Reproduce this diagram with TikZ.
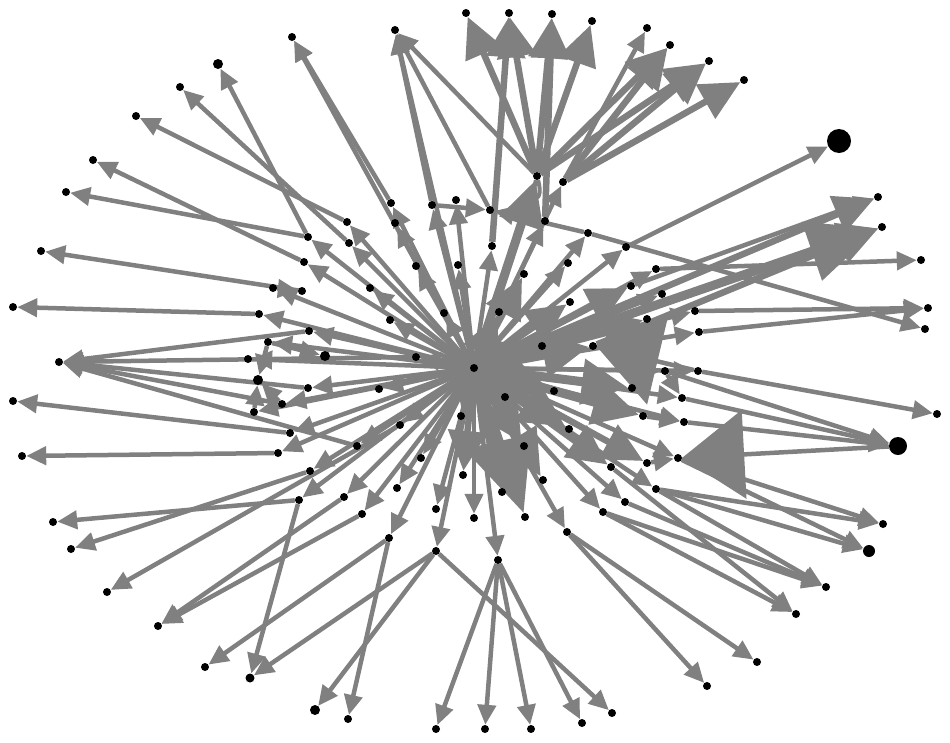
\documentclass[tikz,border=0pt]{standalone}
\usetikzlibrary{arrows.meta,backgrounds}

\tikzset{
  dot/.style={circle, fill=black, inner sep=0pt, minimum size=8pt},
  link/.style={draw=gray, line width=4.5pt, -{Triangle[length=20pt,width=18pt]}},
  heavylink/.style={draw=gray, line width=6.5pt, -{Triangle[length=40pt,width=38pt]}},
  hublink/.style={draw=gray, line width=9pt, -{Triangle[length=46pt,width=44pt]}},
  hugelink/.style={draw=gray, line width=9pt, -{Triangle[length=70pt,width=60pt]}},
  widehead/.style={draw=gray, line width=4.5pt, -{Triangle[length=62pt,width=88pt]}},
}

\begin{document}
\begin{tikzpicture}[x=1pt, y=-1pt]

  \useasboundingbox (0,0) rectangle (950,742);

  % ==========================================
  % NODES (outer ring, then inner ones)
  % ==========================================
  \foreach \nm/\x/\y/\s in {
      t1/395/30/8, t2/292/37/8, t3/466/13/8, t4/509/13/8, t5/552/14/8,
      t6/592/21/8, t7/647/28/8, t8/670/45/8, t9/709/61/8, t10/744/80/8,
      t11/218/64/10,
      l1/180/87/8, l2/136/116/8, l3/93/160/8, l4/66/192/8, l5/41/251/8,
      l6/13/307/8, l7/59/362/8, l8/13/401/8, l9/22/456/8, l10/53/522/8,
      l11/71/549/8, l12/107/592/8, l13/158/626/8, l14/205/667/8,
      b1/250/678/9, b2/315/710/10, b3/348/719/8, b4/436/729/8, b5/485/729/8,
      b6/531/729/8, b7/582/723/8, b8/612/713/8, b9/707/686/8, b10/757/662/8,
      r1/796/614/8, r2/826/587/8, r3/869/551/12, r4/883/524/8, r5/898/446/18,
      r6/937/414/8, r7/925/329/8, r8/928/308/8, r9/921/260/8, r10/882/227/8,
      r11/878/197/8, r12/839/141/24}
    \node[dot, minimum size=\s pt] (\nm) at (\x,\y) {};

  \foreach \nm/\x/\y/\s in {
      hub/474/368/8,
      a1/537/176/8, a2/563/182/8, a3/391/203/8, a4/395/223/8, a5/432/205/8,
      a6/456/200/8, a7/490/210/8, a8/347/222/8, a9/308/237/8, a10/349/243/8,
      a11/545/221/8, a12/588/233/8, a13/626/247/8, a14/492/246/8,
      a15/304/262/8, a16/273/288/8, a17/302/291/8, a18/259/314/8,
      a19/309/331/8, a20/268/342/8, a21/248/359/8, a22/325/356/10,
      a23/258/380/10, a24/308/388/8, a25/282/404/8, a26/254/412/8,
      a27/379/389/8, a28/416/357/8, a29/390/320/8, a30/370/288/8,
      a31/416/266/8, a32/458/265/8, a33/444/313/8, a34/290/433/8,
      a35/278/453/8, a36/357/446/8, a37/400/425/8, a38/461/416/8,
      a39/421/458/8, a40/310/471/8, a41/463/475/8, a42/397/488/8,
      a43/524/274/8, a44/568/263/8, a45/656/269/8, a46/631/286/8,
      a47/662/294/8, a48/570/302/8, a49/499/312/8, a50/647/319/8,
      a51/695/311/8, a52/699/332/8, a53/542/346/8, a54/593/346/8,
      a55/505/397/8, a56/554/391/8, a57/665/371/8, a58/698/371/8,
      a59/632/388/8, a60/682/398/8, a61/643/416/8, a62/684/422/8,
      a63/569/429/8, a64/524/446/8, a65/678/458/8, a66/647/463/8,
      a67/611/467/8, a68/543/480/8, a69/656/489/8, a70/502/492/8,
      a71/299/500/8, a72/344/497/8, a73/362/514/8, a74/389/538/8,
      a75/436/509/8, a76/436/551/8, a77/474/518/8, a78/525/517/8,
      a79/567/532/8, a80/498/560/8, a81/603/512/8, a82/625/502/8}
    \node[dot, minimum size=\s pt] (\nm) at (\x,\y) {};

  % ==========================================
  % LINKS (kept behind the dots)
  % ==========================================
  \begin{scope}[on background layer]

    % hub to the inner dots
    \foreach \b in {a2, a3, a5, a6, a8, a9, a10, a11, a12, a13, a14, a15,
        a16, a18, a19, a20, a21, a24, a25, a26, a27, a28, a29, a30, a31,
        a32, a33, a34, a35, a36, a37, a39, a40, a42, a44, a45, a47, a51,
        a52, a57, a58, a60, a62, a65, a69, a71, a72, a73, a74, a75, a76,
        a77, a79, a80, a81, a82, a4, t1, t2}
      \draw[link] (hub) -- (\b);

    % inner dots to the outer ring
    \foreach \a/\b in {
        a10/l1, a8/l2, a15/l3, a9/l4, a17/l5, a18/l6, a19/l7, a28/l7,
        a24/l7, a25/l7, a36/l7, a34/l8, a35/l9, a71/l10, a40/l11, a37/l12,
        a72/l13, a73/l13, a74/l14, a9/t11, a3/t2, a5/t1, a7/t1, a1/t1,
        a16/a17, a20/a22, a20/a23, a25/a23, a26/a23, a5/a7, a12/a7,
        a71/b1, a76/b1, a76/b2, a74/b3, a80/b4, a80/b5, a80/b6, a80/b7,
        a76/b8, a79/b9, a79/b10,
        a81/r1, a67/r1, a81/r2, a69/r2, a82/r2, a65/r3, a69/r3, a65/r4,
        a69/r4, a62/r5, a60/r5, a57/r5, a58/r6, a12/r7, a51/r8, a52/r8,
        a45/r9, a46/r11, a13/r12, a2/t7, a57/a60, a61/a62, a66/a65}
      \draw[link] (\a) -- (\b);

    % heavier links
    \foreach \a/\b in {a1/t3, a1/t4, a1/t5, a1/t6, a2/t8, a2/t9, a2/t10,
        a1/t9, a1/t8, a14/t4, a11/t5, a53/r10, a54/r10, hub/r11,
        hub/a48, hub/a43, hub/a49, hub/a38, hub/a41, hub/a46, hub/a50,
        hub/a67, hub/a66}
      \draw[heavylink] (\a) -- (\b);

    % the thick bundle round the hub
    \foreach \b in {a1, a53, a54, a55, a56, a63, a64, a68, a70, a59, a61}
      \draw[hublink] (hub) -- (\b);

    % heaviest links
    \foreach \a/\b in {hub/r10, hub/a78}
      \draw[hugelink] (\a) -- (\b);
    \foreach \a/\b in {a58/a54, r5/a65}
      \draw[widehead] (\a) -- (\b);

    % self loop on the upper hub
    \draw[draw=gray, line width=4pt] (a1) to[loop below, min distance=24pt] (a1);

  \end{scope}

\end{tikzpicture}
\end{document}
